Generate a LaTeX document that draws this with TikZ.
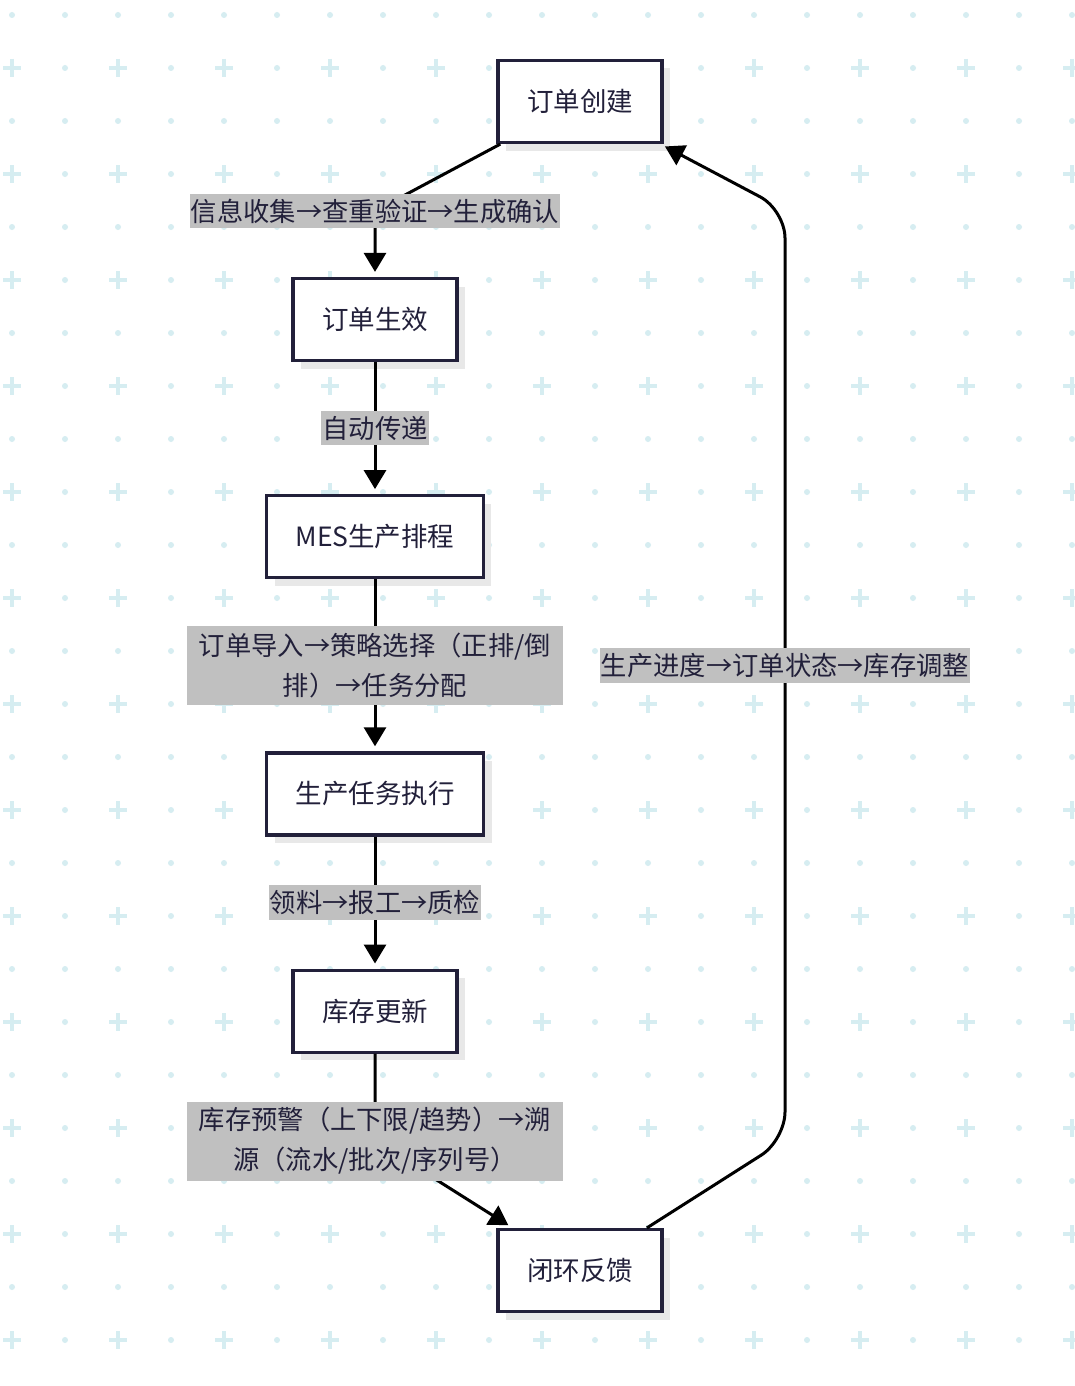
\documentclass[tikz,border=0pt]{standalone}
\usepackage{fontspec}
\setmainfont{Noto Sans CJK SC}
\usetikzlibrary{arrows.meta,positioning,shadows}
\definecolor{ink}{HTML}{22203A}
\definecolor{dotc}{HTML}{D6EDF1}
\definecolor{lblfill}{HTML}{C0C0C0}

\begin{document}
\begin{tikzpicture}[x=1pt, y=-1pt, node distance=132pt, >={Triangle[length=19pt,width=22pt]},
  box/.style={draw=ink, line width=3.2pt, fill=white, text=ink, minimum width=163pt, minimum height=82pt, inner xsep=29pt, font=\fontsize{26.5}{32}\selectfont, drop shadow={shadow xshift=8pt, shadow yshift=-8pt, fill=black!9, opacity=1}},
  lbl/.style={sharp corners, fill=lblfill, text=ink, inner xsep=1pt, inner ysep=5pt, font=\fontsize{26.3}{40}\selectfont},
  lbl2/.style={lbl, align=center, minimum width=376pt, minimum height=79pt, inner ysep=0pt},
  flow/.style={->, line width=3pt, shorten >=5pt, rounded corners=12pt}]
\fill[white] (0,0) rectangle (1074,1386);
\useasboundingbox (0,0) rectangle (1074,1386);
\foreach \i in {0,...,20}{
  \foreach \j in {0,...,25}{
    \pgfmathtruncatemacro\gx{12+53*\i}
    \pgfmathtruncatemacro\gy{15+53*\j}
    \pgfmathtruncatemacro\isplus{(mod(\i,2)==0)&&(mod(\j,2)==1)}
    \ifnum\isplus=1
      \draw[dotc, line width=4pt] (\gx-9,\gy) -- (\gx+9,\gy) (\gx,\gy-9) -- (\gx,\gy+9);
    \else
      \fill[dotc] (\gx,\gy) circle (3);
    \fi
  }
}
\node[box] (create) at (580,101.5) {订单创建};
\node[box] (valid) at (375,319.5) {订单生效};
\coordinate (k1) at (375,211);
\draw[flow] (create) -- (k1) node[lbl] {信息收集→查重验证→生成确认} -- (valid);
\node[box, below=of valid] (mes) {MES生产排程};
\draw[flow] (valid) -- node[lbl] {自动传递} (mes);
\node[box, below=172pt of mes] (task) {生产任务执行};
\draw[flow] (mes) -- node[lbl2] {订单导入→策略选择（正排/倒\\排）→任务分配} (task);
\node[box, below=of task] (stock) {库存更新};
\draw[flow] (task) -- node[lbl] {领料→报工→质检} (stock);
\node[box] (closed) at (580,1270.5) {闭环反馈};
\coordinate (k2) at (375,1141);
\draw[flow] (stock) -- (k2) node[lbl2] {库存预警（上下限/趋势）→溯\\源（流水/批次/序列号）} -- (closed);
\coordinate (k3) at (785,1140);
\coordinate (k4) at (785,210);
\draw[flow, rounded corners=28pt] (closed) -- (k3) -- node[lbl, pos=0.51] {生产进度→订单状态→库存调整} (k4) -- (create);
\end{tikzpicture}
\end{document}
